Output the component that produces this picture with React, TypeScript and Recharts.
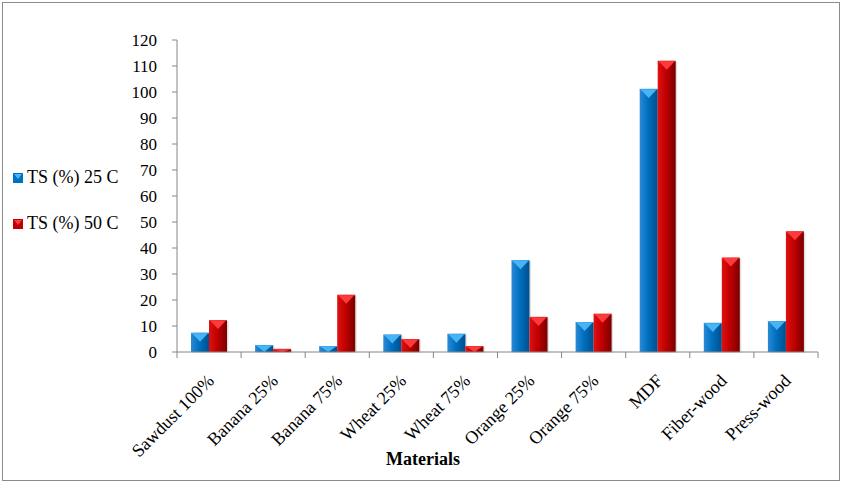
import { Bar, BarChart, XAxis, YAxis } from 'recharts';

const materials = [
  'Sawdust 100%',
  'Banana 25%',
  'Banana 75%',
  'Wheat 25%',
  'Wheat 75%',
  'Orange 25%',
  'Orange 75%',
  'MDF',
  'Fiber-wood',
  'Press-wood',
];
const ts25 = [7.4, 2.7, 2.3, 6.7, 7.0, 35.3, 11.5, 101.2, 11.2, 11.9];
const ts50 = [12.3, 1.2, 22.0, 5.0, 2.3, 13.5, 14.7, 112.0, 36.3, 46.4];
const yTicks = [0, 10, 20, 30, 40, 50, 60, 70, 80, 90, 100, 110, 120];

const chartData = materials.map((m, i) => ({ name: m, t25: ts25[i], t50: ts50[i] }));

const FONT = '"Liberation Serif", "Times New Roman", serif';
const AXIS = '#868686';

const palette: { [k: string]: { l: string; m: string; d: string; tri: string } } = {
  blue: { l: '#2a8ad6', m: '#0070c0', d: '#004f8c', tri: '#47b4f5' },
  red: { l: '#e01010', m: '#c00000', d: '#7a0000', tri: '#ff3a3a' },
};

const Bar3D = (props: any) => {
  const { x, y, width, height, tone } = props;
  if (!height || height <= 0) return null;
  const p = palette[tone];
  const id = `g-${tone}`;
  const th = Math.min(9, height);
  return (
    <g>
      <defs>
        <linearGradient id={id} x1='0' y1='0' x2='1' y2='0'>
          <stop offset='0%' stopColor={p.l} />
          <stop offset='45%' stopColor={p.m} />
          <stop offset='100%' stopColor={p.d} />
        </linearGradient>
      </defs>
      <rect x={x + 1.5} y={y + 1} width={width} height={height} fill='rgba(0,0,0,0.12)' />
      <rect x={x} y={y} width={width} height={height} fill={`url(#${id})`} />
      <polygon
        points={`${x + 1},${y + 0.5} ${x + width - 1},${y + 0.5} ${x + width / 2},${y + th}`}
        fill={p.tri}
      />
      <rect x={x} y={y} width={width} height={1} fill={p.tri} opacity={0.7} />
    </g>
  );
};

const XTick = (props: any) => {
  const { x, y, payload, index } = props;
  const step = (818 - 177) / materials.length;
  return (
    <g>
      <line x1={x - step / 2} y1={y} x2={x - step / 2} y2={y + 6} stroke={AXIS} />
      {index === materials.length - 1 && (
        <line x1={x + step / 2} y1={y} x2={x + step / 2} y2={y + 6} stroke={AXIS} />
      )}
      <text
        transform={`translate(${x + 6},${y + 30}) rotate(-45)`}
        textAnchor='end'
        fontFamily={FONT}
        fontSize={18}
        fill='#000'
      >
        {payload.value}
      </text>
    </g>
  );
};

const LegendItem = ({ tone, label, top }: { tone: string; label: string; top: number }) => {
  const p = palette[tone];
  return (
    <div
      style={{
        position: 'absolute',
        left: 13,
        top,
        display: 'flex',
        alignItems: 'center',
        fontFamily: FONT,
        fontSize: 18,
        color: '#000',
        whiteSpace: 'nowrap',
      }}
    >
      <svg width={10} height={10} style={{ marginRight: 4 }}>
        <rect x={0} y={0} width={10} height={10} fill={p.m} />
        <polygon points='1,1 9,1 5,6' fill={p.tri} />
      </svg>
      {label}
    </div>
  );
};

export default function App() {
  return (
    <div style={{ position: 'absolute', left: 0, top: 0, width: 843, height: 484, background: '#fff' }}>
      <div
        style={{
          position: 'absolute',
          left: 2,
          top: 2,
          width: 836,
          height: 477,
          border: '1px solid #8c8c8c',
        }}
      />
      <BarChart
        width={843}
        height={484}
        data={chartData}
        margin={{ top: 40, right: 25, bottom: 2, left: 117 }}
        barGap={0}
        barSize={18}
      >
        <XAxis
          dataKey='name'
          interval={0}
          height={130}
          tickSize={0}
          tickMargin={0}
          tickLine={false}
          axisLine={{ stroke: AXIS }}
          tick={<XTick />}
        />
        <YAxis
          width={60}
          domain={[0, 120]}
          ticks={yTicks}
          interval={0}
          tickSize={5}
          tickMargin={15}
          axisLine={{ stroke: AXIS }}
          tickLine={{ stroke: AXIS }}
          tick={{ fill: '#000', fontSize: 17, fontFamily: FONT }}
        />
        <Bar dataKey='t25' isAnimationActive={false} shape={(p: any) => <Bar3D {...p} tone='blue' />} />
        <Bar dataKey='t50' isAnimationActive={false} shape={(p: any) => <Bar3D {...p} tone='red' />} />
      </BarChart>
      <LegendItem tone='blue' label='TS (%) 25 C' top={167} />
      <LegendItem tone='red' label='TS (%) 50 C' top={213} />
      <div
        style={{
          position: 'absolute',
          left: 423,
          top: 449,
          transform: 'translateX(-50%)',
          fontFamily: FONT,
          fontSize: 18,
          fontWeight: 'bold',
          color: '#000',
        }}
      >
        Materials
      </div>
    </div>
  );
}
